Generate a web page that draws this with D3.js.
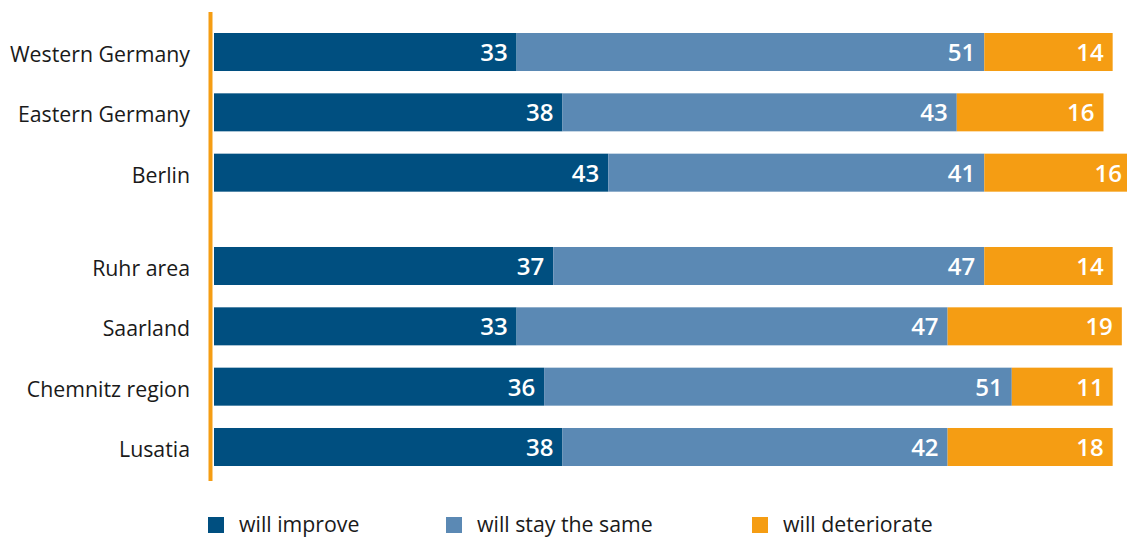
<!DOCTYPE html>
<html>
<head>
<meta charset="utf-8">
<script src="https://cdn.jsdelivr.net/npm/d3@7"></script>
<style>
  html, body { margin: 0; padding: 0; background: #fff; }
  svg { display: block; font-family: "Open Sans", sans-serif; }
</style>
</head>
<body>
<svg id="chart" width="1127" height="537"></svg>
<script>
// Expectations by region (shares in %)
const regions = ["Western Germany", "Eastern Germany", "Berlin", "Ruhr area", "Saarland", "Chemnitz region", "Lusatia"];
const groups = [0, 0, 0, 1, 1, 1, 1];
const improve = [33, 38, 43, 37, 33, 36, 38];
const same = [51, 43, 41, 47, 47, 51, 42];
const deteriorate = [14, 16, 16, 14, 19, 11, 18];
const seriesNames = ["will improve", "will stay the same", "will deteriorate"];
const seriesColors = ["#004f80", "#5b89b4", "#f59d13"];

const rows = regions.map((r, i) => ({ region: r, group: groups[i], values: [improve[i], same[i], deteriorate[i]] }));

const svg = d3.select("#chart");

const x = d3.scaleLinear().domain([0, 100]).range([214, 1131]);

// rows are laid out on a band scale, with an extra gap between the two groups
const groupGap = 33;
const y = d3.scaleBand().domain(regions).range([33, 466 - groupGap]).paddingInner(0.37).paddingOuter(0);
const yPos = (d) => y(d.region) + d.group * groupGap;

const stacked = d3.stack().keys([0, 1, 2]).value((d, k) => d.values[k])(rows);

const layer = svg.append("g");
stacked.forEach((s, k) => {
  const g = layer.append("g").attr("fill", seriesColors[k]);
  g.selectAll("rect").data(s).join("rect")
    .attr("x", d => x(d[0]))
    .attr("y", d => yPos(d.data))
    .attr("width", d => x(d[1]) - x(d[0]))
    .attr("height", y.bandwidth());
  layer.append("g").selectAll("text").data(s).join("text")
    .attr("x", d => x(d[1]) - 9)
    .attr("y", d => yPos(d.data) + y.bandwidth() / 2)
    .attr("dy", "0.37em")
    .attr("text-anchor", "end")
    .attr("fill", "#fff")
    .attr("font-size", 24)
    .attr("font-weight", 600)
    .text(d => d.data.values[k]);
});

// category labels
svg.append("g").selectAll("text").data(rows).join("text")
  .attr("x", 190)
  .attr("y", d => yPos(d) + y.bandwidth() / 2)
  .attr("dy", "0.47em")
  .attr("text-anchor", "end")
  .attr("fill", "#1a1a1a")
  .attr("font-size", 21.3)
  .text(d => d.region);

// vertical axis line
svg.append("line")
  .attr("x1", 210.5).attr("x2", 210.5)
  .attr("y1", 12).attr("y2", 481)
  .attr("stroke", "#f59d13")
  .attr("stroke-width", 4);

// legend
const legendX = [208, 446, 752];
const legend = svg.append("g").selectAll("g").data(seriesNames).join("g")
  .attr("transform", (d, i) => `translate(${legendX[i]},517)`);
legend.append("rect").attr("width", 16).attr("height", 16).attr("fill", (d, i) => seriesColors[i]);
legend.append("text")
  .attr("x", 31).attr("y", 15)
  .attr("fill", "#1a1a1a").attr("font-size", 21.3)
  .text(d => d);
</script>
</body>
</html>
